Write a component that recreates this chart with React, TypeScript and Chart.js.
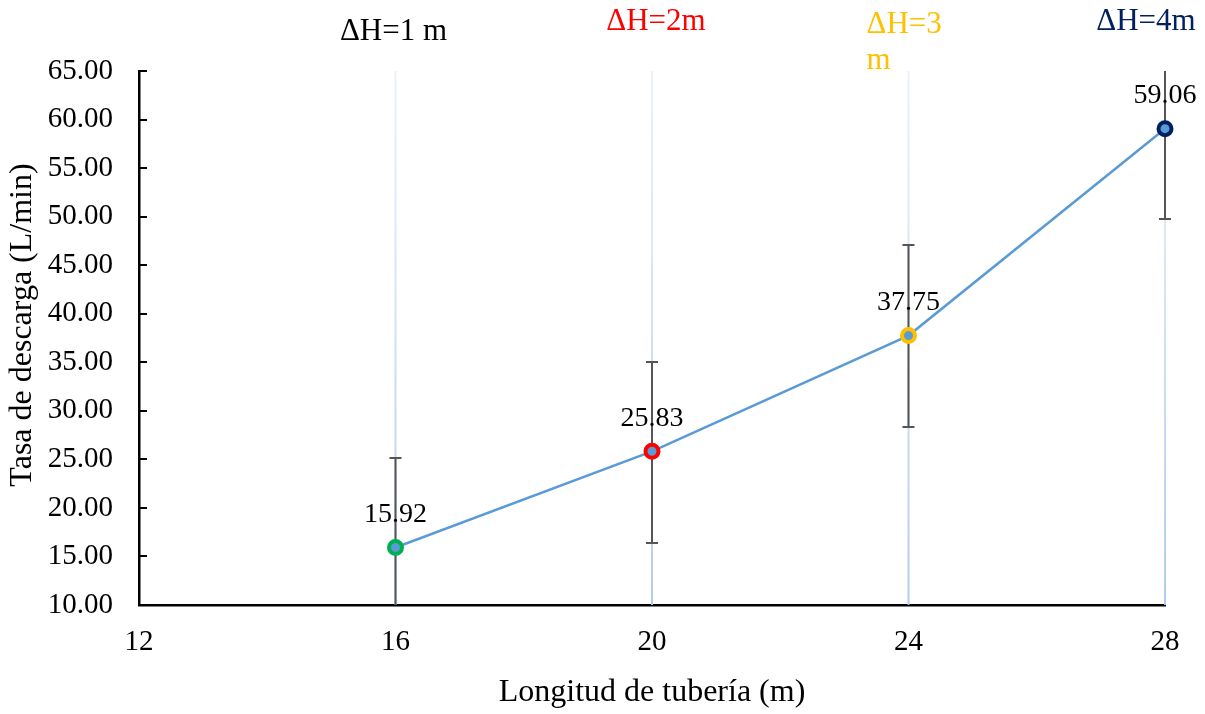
import React, { useEffect, useRef } from "react";
import { Chart, registerables } from "chart.js";

Chart.register(...registerables);

const lengths = [16, 20, 24, 28];
const discharge = [15.92, 25.83, 37.75, 59.06];
const errUp = [9.22, 9.2, 9.33, 9.3];
const errDown = [9.3, 9.44, 9.42, 9.3];
const headLabels = ["ΔH=1 m", "ΔH=2m", "ΔH=3\nm", "ΔH=4m"];
const headColors = ["#000000", "#FF0000", "#FFC000", "#002060"];
const pointBorders = ["#00B050", "#FF0000", "#FFC000", "#002060"];
const xTicks = [12, 16, 20, 24, 28];
const yMin = 10;
const yMax = 65;
const yStep = 5;
const yTitle = "Tasa de descarga (L/min)";
const xTitle = "Longitud de tubería (m)";

// label placement (pixel offsets relative to the x value, and centre y)
const headLayout = [
  { dx: -2, y: 32, align: "center" },
  { dx: 4, y: 22, align: "center" },
  { dx: -42, y: 25, align: "left" },
  { dx: -19, y: 22, align: "center" },
];

const FONT = "'Liberation Serif', 'Times New Roman', serif";

const gridPlugin = {
  id: "customGrid",
  beforeDatasetsDraw(chart: any) {
    const { ctx, chartArea, scales } = chart;
    const xs = scales.x;
    const g = ctx.createLinearGradient(0, chartArea.bottom, 0, chartArea.top);
    g.addColorStop(0, "rgba(170,202,235,0.95)");
    g.addColorStop(1, "rgba(225,236,248,0.7)");
    ctx.save();
    ctx.strokeStyle = g;
    ctx.lineWidth = 2;
    xTicks.forEach((v) => {
      if (v === xTicks[0]) return;
      const px = xs.getPixelForValue(v);
      ctx.beginPath();
      ctx.moveTo(px, chartArea.top);
      ctx.lineTo(px, chartArea.bottom);
      ctx.stroke();
    });
    // error bars
    ctx.beginPath();
    ctx.rect(chartArea.left, chartArea.top, chartArea.right - chartArea.left + 10, chartArea.bottom - chartArea.top);
    ctx.clip();
    ctx.strokeStyle = "#555555";
    ctx.lineWidth = 2;
    const ys = scales.y;
    lengths.forEach((x, i) => {
      const px = xs.getPixelForValue(x);
      const top = ys.getPixelForValue(discharge[i] + errUp[i]);
      const bot = ys.getPixelForValue(discharge[i] - errDown[i]);
      ctx.beginPath();
      ctx.moveTo(px, top);
      ctx.lineTo(px, bot);
      ctx.moveTo(px - 6, top);
      ctx.lineTo(px + 6, top);
      ctx.moveTo(px - 6, bot);
      ctx.lineTo(px + 6, bot);
      ctx.stroke();
    });
    ctx.restore();
  },
  afterDatasetsDraw(chart: any) {
    const { ctx, chartArea, scales } = chart;
    const xs = scales.x;
    const ys = scales.y;
    ctx.save();
    // inner y tick marks
    ctx.strokeStyle = "#000";
    ctx.lineWidth = 2;
    for (let v = yMin; v <= yMax; v += yStep) {
      const py = Math.round(ys.getPixelForValue(v));
      ctx.beginPath();
      ctx.moveTo(chartArea.left, py);
      ctx.lineTo(chartArea.left + 8, py);
      ctx.stroke();
    }
    // data labels
    ctx.fillStyle = "#000";
    ctx.font = `28px ${FONT}`;
    ctx.textAlign = "center";
    ctx.textBaseline = "middle";
    lengths.forEach((x, i) => {
      const px = xs.getPixelForValue(x);
      const py = ys.getPixelForValue(discharge[i]);
      ctx.fillText(discharge[i].toFixed(2), px, py - 33);
    });
    // head labels
    ctx.font = `31px ${FONT}`;
    lengths.forEach((x, i) => {
      const lay = headLayout[i];
      const px = xs.getPixelForValue(x) + lay.dx;
      ctx.fillStyle = headColors[i];
      ctx.textAlign = lay.align as CanvasTextAlign;
      headLabels[i].split("\n").forEach((line, k) => {
        ctx.fillText(line, px, lay.y + k * 36);
      });
    });
    // y axis title
    ctx.fillStyle = "#000";
    ctx.font = `32px ${FONT}`;
    ctx.textAlign = "center";
    ctx.textBaseline = "middle";
    ctx.translate(23, 325);
    ctx.rotate(-Math.PI / 2);
    ctx.fillText(yTitle, 0, 0);
    ctx.restore();
  },
};

export default function App() {
  const ref = useRef<HTMLCanvasElement | null>(null);
  useEffect(() => {
    if (!ref.current) return;
    const chart = new Chart(ref.current, {
      type: "line",
      data: {
        datasets: [
          {
            data: lengths.map((x, i) => ({ x, y: discharge[i] })),
            borderColor: "#5B9BD5",
            borderWidth: 2.5,
            backgroundColor: "#5B9BD5",
            pointBackgroundColor: "#5B9BD5",
            pointBorderColor: pointBorders,
            pointBorderWidth: 4,
            pointRadius: 6.5,
            tension: 0,
            clip: false as any,
          },
        ],
      },
      options: {
        responsive: false,
        animation: false,
        layout: { padding: { left: 0, right: 40, top: 71, bottom: 0 } },
        plugins: { legend: { display: false }, tooltip: { enabled: false } },
        scales: {
          x: {
            type: "linear",
            min: 12,
            max: 28,
            afterFit: (s: any) => {
              s.height = 109;
            },
            afterBuildTicks: (s: any) => {
              s.ticks = xTicks.map((v) => ({ value: v }));
            },
            grid: { display: false, drawTicks: false },
            border: { display: true, color: "#000", width: 2.5 },
            ticks: {
              color: "#000",
              font: { family: FONT, size: 29 },
              padding: 20,
              maxRotation: 0,
            },
            title: {
              display: true,
              text: xTitle,
              color: "#000",
              font: { family: FONT, size: 32 },
              padding: { top: 0, bottom: 2 },
            },
          },
          y: {
            min: yMin,
            max: yMax,
            afterFit: (s: any) => {
              s.width = 139;
            },
            grid: { display: false, drawTicks: false },
            border: { display: true, color: "#000", width: 2.5 },
            ticks: {
              stepSize: yStep,
              color: "#000",
              font: { family: FONT, size: 29 },
              padding: 26,
              callback: (v: any) => Number(v).toFixed(2),
            },
            title: { display: false },
          },
        },
      },
      plugins: [gridPlugin],
    });
    return () => chart.destroy();
  }, []);
  return (
    <div style={{ position: "absolute", left: 0, top: 0, width: 1205, height: 714, background: "#fff" }}>
      <canvas ref={ref} width={1205} height={714} />
    </div>
  );
}
